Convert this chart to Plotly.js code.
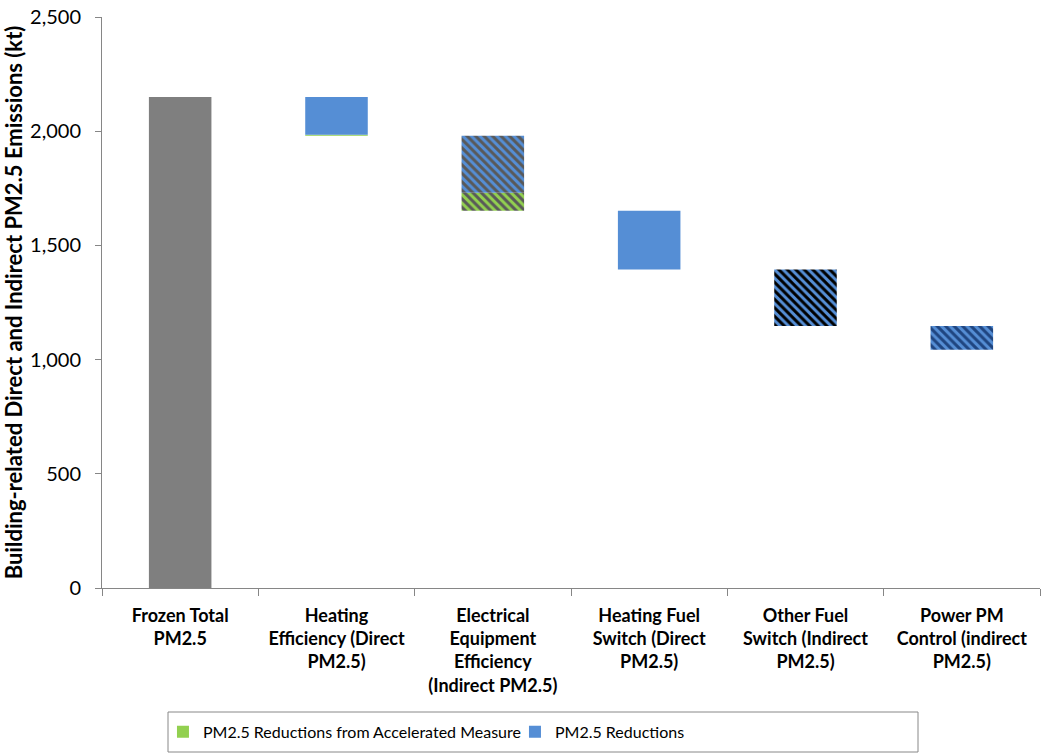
<!DOCTYPE html>
<html>
<head>
<meta charset="utf-8">
<script src="https://cdn.plot.ly/plotly-3.0.1.min.js"></script>
<style>html,body{margin:0;padding:0;background:#fff;}#chart{width:1042px;height:755px;}</style>
</head>
<body>
<div id="chart"></div>
<script>
const categories = [
  "Frozen Total<br>PM2.5",
  "Heating<br>Efficiency (Direct<br>PM2.5)",
  "Electrical<br>Equipment<br>Efficiency<br>(Indirect PM2.5)",
  "Heating Fuel<br>Switch (Direct<br>PM2.5)",
  "Other Fuel<br>Switch (Indirect<br>PM2.5)",
  "Power PM<br>Control (indirect<br>PM2.5)"
];
const frozenTotal = 2150;
const acceleratedReductions = [0, 5, 78, 0, 0, 0];
const pmReductions = [0, 165, 250, 257, 248, 104];

// waterfall bases derived from the values
const greenBase = [], blueBase = [];
let level = frozenTotal;
for (let i = 0; i < categories.length; i++) {
  const bottom = level - acceleratedReductions[i] - pmReductions[i];
  greenBase.push(bottom);
  blueBase.push(bottom + acceleratedReductions[i]);
  level = bottom;
}

const FONT = "Lato, 'Open Sans', sans-serif";
const blue = "#558ED5", green = "#92D050", gray = "#7F7F7F";
const n = categories.length;
const fill = (v) => Array(n).fill(v);

const traces = [
  {
    type: "bar", x: [categories[0]], y: [frozenTotal],
    marker: {color: gray}, showlegend: false, width: 0.4, hoverinfo: "y"
  },
  {
    type: "bar", name: "PM2.5 Reductions from Accelerated Measure",
    x: categories, y: acceleratedReductions, base: greenBase, width: 0.4,
    marker: {color: green, pattern: {
      shape: ["", "", "\\", "", "", ""],
      fgcolor: fill("#595959"), bgcolor: fill(green),
      size: 6, solidity: 0.5}}
  },
  {
    type: "bar", name: "PM2.5 Reductions",
    x: categories, y: pmReductions, base: blueBase, width: 0.4,
    marker: {color: blue, pattern: {
      shape: ["", "", "\\", "", "\\", "\\"],
      fgcolor: ["#595959","#595959","#595959","#595959","#000000","#1F4580"],
      bgcolor: fill(blue),
      size: 6, solidity: 0.5}}
  }
];

const layout = {
  width: 1042, height: 755,
  margin: {l: 102, r: 2, t: 17, b: 167},
  paper_bgcolor: "#fff", plot_bgcolor: "#fff",
  barmode: "overlay",
  font: {family: FONT, color: "#000", size: 18},
  xaxis: {
    type: "category", categoryorder: "array", categoryarray: categories,
    showline: true, linecolor: "#868686", linewidth: 1,
    ticks: "outside", tickson: "boundaries", ticklen: 7, tickcolor: "#868686",
    tickfont: {family: FONT, size: 18, color: "#000", weight: "bold"},
    ticklabelstandoff: 11,
    showgrid: false, zeroline: false, fixedrange: true
  },
  yaxis: {
    range: [0, 2500], dtick: 500, tickformat: ",",
    showline: true, linecolor: "#868686", linewidth: 1,
    ticks: "outside", ticklen: 6, tickcolor: "#868686",
    tickfont: {family: FONT, size: 20, color: "#000"},
    ticklabelstandoff: 10,
    showgrid: false, zeroline: false,
    title: {text: "Building-related Direct and Indirect PM2.5 Emissions (kt)",
            font: {family: FONT, size: 22, color: "#000", weight: "bold"}, standoff: 7}
  },
  showlegend: true,
  legend: {
    orientation: "h", x: 0.065, xanchor: "left", y: -0.222, yanchor: "top",
    font: {family: FONT, size: 16, color: "#000"},
    bgcolor: "rgba(0,0,0,0)", borderwidth: 0,
    entrywidth: 307, traceorder: "normal"
  },
  shapes: [{
    type: "rect", xref: "paper", yref: "paper",
    x0: (168 - 102) / 938, x1: (918 - 102) / 938,
    y0: (588 - 752) / 571, y1: (588 - 712) / 571,
    line: {color: "#888", width: 1}, fillcolor: "rgba(0,0,0,0)"
  }]
};

Plotly.newPlot("chart", traces, layout, {displayModeBar: false, staticPlot: true});
</script>
</body>
</html>
